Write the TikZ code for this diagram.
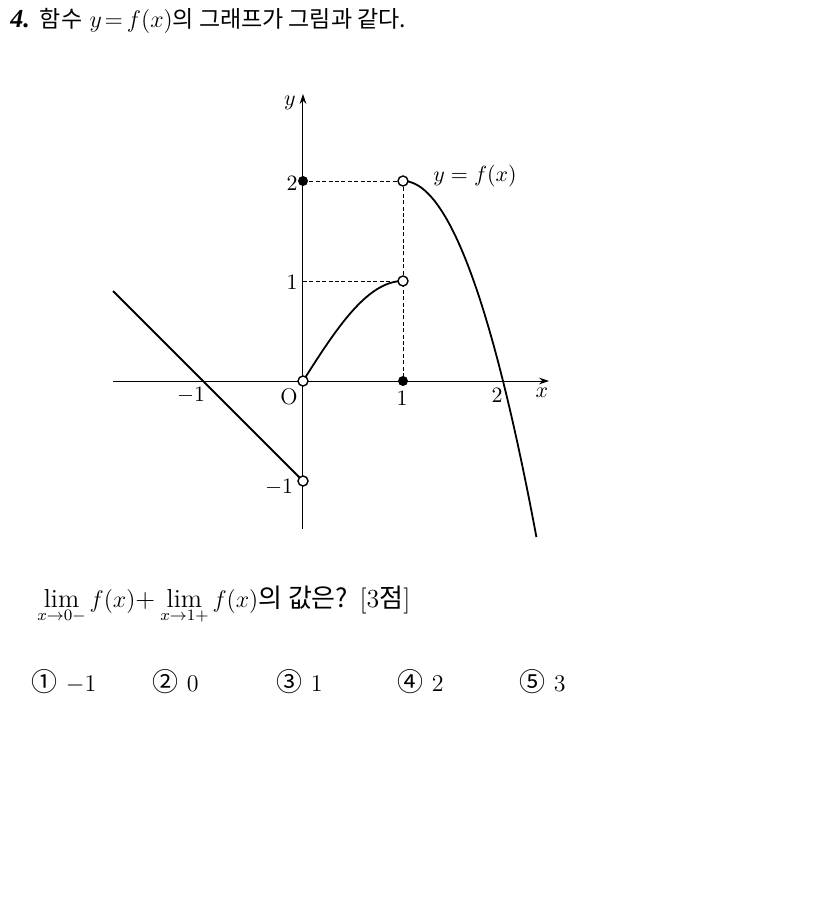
\documentclass[tikz,border=0pt]{standalone}
\usepackage{fontspec}
\newfontfamily\kr{Noto Sans CJK KR}
\newfontfamily\numfont{Liberation Serif}
\DeclareMathSizes{13}{13}{8}{6.5}
\usetikzlibrary{arrows.meta}
\begin{document}
\begin{tikzpicture}[x=50pt,y=50pt,
  axis/.style={line width=0.5pt,-{Stealth[length=5pt,width=3.4pt]}},
  curve/.style={line width=0.9pt},
  guide/.style={line width=0.4pt,dash pattern=on 2pt off 1.2pt},
  opendot/.style={circle,draw,fill=white,line width=0.7pt,inner sep=0pt,minimum size=5pt},
  fulldot/.style={circle,fill=black,inner sep=0pt,minimum size=5pt},
  lab/.style={inner sep=0pt,font=\fontsize{11.3}{13}\selectfont},
  txt/.style={inner sep=0pt,anchor=base west},
  choice/.style={txt,font=\fontsize{13}{16}\selectfont}]
\useasboundingbox (-3.03,-5.26) rectangle (5.19,3.81);
% title
\node[txt,font=\fontsize{11.5}{14}\selectfont] (title) at (-2.93,3.54)
  {{\numfont\fontsize{13}{14}\selectfont\bfseries\itshape 4.} {\kr 함수} $y\mskip2mu{=}\mskip3mu f(x)${\kr 의 그래프가 그림과 같다.}};
% axes
\coordinate (xl) at (-1.9,0);
\coordinate (xr) at (2.46,0);
\coordinate (yb) at (0,-1.48);
\coordinate (yt) at (0,2.87);
\draw[axis] (xl) -- (xr);
\draw[axis] (yb) -- (yt);
% points
\coordinate (O) at (0,0);
\coordinate (A) at (1,1);
\coordinate (B) at (1,2);
\coordinate (C) at (0,2);
\coordinate (D) at (0,1);
\coordinate (E) at (1,0);
\coordinate (F) at (0,-1);
\coordinate (L) at (-1.9,0.9);
% guides
\draw[guide] (C) -- (B);
\draw[guide] (D) -- (A);
\draw[guide] (B) -- (E);
% graph
\draw[curve] (L) -- (F);
\draw[curve] plot[domain=0:1,samples=60] (\x,{sin(90*\x)});
\draw[curve] plot[domain=1:2.335,samples=80] (\x,{2-2*(\x-1)^2});
% dots
\node[fulldot] (dC) at (C) {};
\node[fulldot] (dE) at (E) {};
\node[opendot] (dO) at (O) {};
\node[opendot] (dA) at (A) {};
\node[opendot] (dB) at (B) {};
\node[opendot] (dF) at (F) {};
% labels
\node[lab] (lx) at (2.39,-0.12) {$x$};
\node[lab] (ly) at (-0.13,2.78) {$y$};
\node[lab] (lO) at (-0.14,-0.16) {O};
\node[lab] (lxm1) at (-1.12,-0.14) {$-1$};
\node[lab] (lx1) at (0.99,-0.17) {$1$};
\node[lab] (lx2) at (1.94,-0.14) {$2$};
\node[lab] (ly2) at (-0.11,1.98) {$2$};
\node[lab] (ly1) at (-0.11,0.99) {$1$};
\node[lab] (lym1) at (-0.24,-1.06) {$-1$};
\node[lab] (lf) at (1.72,2.05) {$y=f(x)$};
% question
\node[txt,font=\fontsize{13}{16}\selectfont] (q) at (-2.66,-2.26)
  {$\displaystyle\lim_{x\to0-}f(x)$+\hspace{2.5pt}$\displaystyle\lim_{x\to1+}f(x)${\kr 의 값은?} [3{\kr 점}]};
% choices
\node[choice] (c1) at (-2.72,-3.10) {{\kr ①} $-1$};
\node[choice] (c2) at (-1.51,-3.10) {{\kr ②} $0$};
\node[choice] (c3) at (-0.27,-3.10) {{\kr ③} $1$};
\node[choice] (c4) at (0.94,-3.10) {{\kr ④} $2$};
\node[choice] (c5) at (2.16,-3.10) {{\kr ⑤} $3$};
\end{tikzpicture}
\end{document}
